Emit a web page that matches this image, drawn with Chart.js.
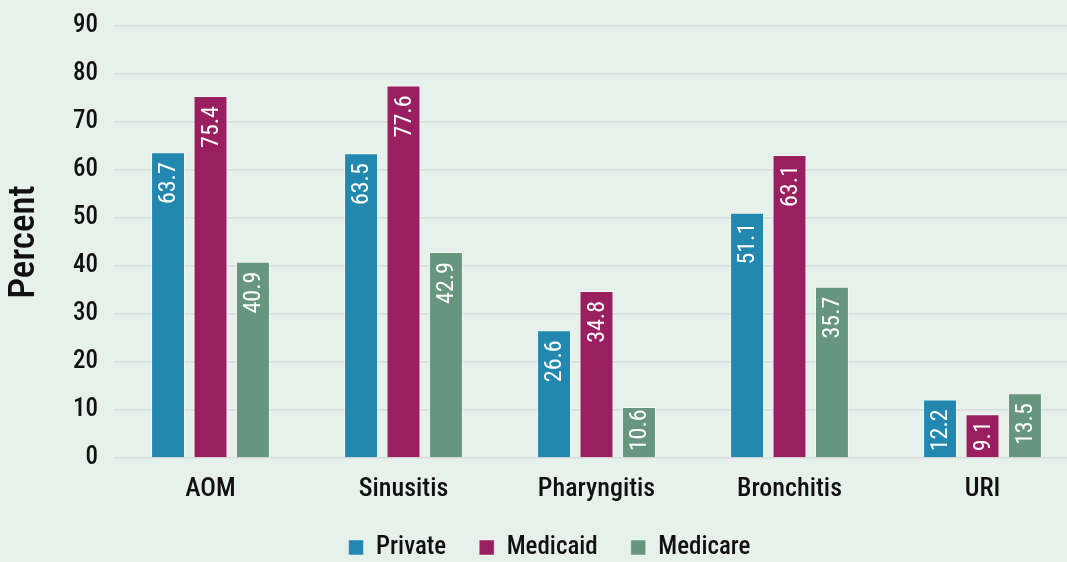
<!DOCTYPE html>
<html lang="en">
<head>
<meta charset="utf-8">
<title>Percent by payer</title>
<script src="https://cdn.jsdelivr.net/npm/chart.js@4.4.1/dist/chart.umd.min.js"></script>
<style>
    html, body {
        margin: 0;
        padding: 0;
        overflow: hidden;
        background: #E7F1EB;
    }
    #grafico {
        display: block;
    }
</style>
</head>
<body>
<canvas id="grafico" width="1079" height="570"></canvas>
<script>
// Dados do gráfico
const categorias = ['AOM', 'Sinusitis', 'Pharyngitis', 'Bronchitis', 'URI'];
const valoresPrivate = [63.7, 63.5, 26.6, 51.1, 12.2];
const valoresMedicaid = [75.4, 77.6, 34.8, 63.1, 9.1];
const valoresMedicare = [40.9, 42.9, 10.6, 35.7, 13.5];
const ticksY = [0, 10, 20, 30, 40, 50, 60, 70, 80, 90];

const fonte = "'Roboto Condensed', 'Liberation Sans', sans-serif";
Chart.defaults.font.family = fonte;
Chart.defaults.font.weight = '500';
Chart.defaults.color = '#111111';

// Escreve o valor de cada barra, girado, perto do topo
const rotulosBarras = {
    id: 'rotulosBarras',
    afterDatasetsDraw(chart) {
        const ctx = chart.ctx;
        ctx.save();
        ctx.fillStyle = '#FFFFFF';
        ctx.font = `400 24px ${fonte}`;
        ctx.textAlign = 'right';
        ctx.textBaseline = 'middle';
        chart.data.datasets.forEach((dataset, i) => {
            chart.getDatasetMeta(i).data.forEach((barra, j) => {
                const texto = dataset.data[j].toFixed(1);
                const altura = barra.base - barra.y;
                // barras baixas: encosta o texto mais no topo para caber
                const recuo = Math.min(10, altura - ctx.measureText(texto).width - 6);
                ctx.save();
                ctx.translate(barra.x + 1, barra.y + recuo);
                ctx.rotate(-Math.PI / 2);
                ctx.fillText(texto, 0, 0);
                ctx.restore();
            });
        });
        ctx.restore();
    }
};

// Legenda um pouco deslocada para a direita
const ajusteLegenda = {
    id: 'ajusteLegenda',
    afterLayout(chart) {
        chart.legend.left += 10;
        chart.legend.right += 10;
    }
};

const criarDataset = (label, data, cor) => ({
    label: label,
    data: data,
    backgroundColor: cor,
    borderColor: 'rgba(255, 255, 255, 0.45)',
    borderWidth: 1,
    categoryPercentage: 0.66,
    barPercentage: 0.8
});

const config = {
    type: 'bar',
    data: {
        labels: categorias,
        datasets: [
            criarDataset('Private', valoresPrivate, '#2388B0'),
            criarDataset('Medicaid', valoresMedicaid, '#9A1F61'),
            criarDataset('Medicare', valoresMedicare, '#67967F')
        ]
    },
    options: {
        responsive: false,
        animation: false,
        devicePixelRatio: 1,
        layout: {
            padding: { top: 25, right: 0, bottom: 0, left: 0 }
        },
        plugins: {
            tooltip: { enabled: false },
            legend: {
                position: 'bottom',
                labels: {
                    boxWidth: 15,
                    boxHeight: 15,
                    padding: 33,
                    color: '#111111',
                    font: { size: 25 }
                }
            }
        },
        scales: {
            x: {
                grid: { display: false },
                border: { display: false },
                ticks: {
                    padding: 8,
                    color: '#111111',
                    font: { size: 26 }
                },
                afterFit(scale) {
                    scale.height = 44;
                }
            },
            y: {
                min: 0,
                max: ticksY[ticksY.length - 1],
                afterBuildTicks(scale) {
                    scale.ticks = ticksY.map(v => ({ value: v }));
                },
                grid: {
                    color: '#D9DCDE',
                    lineWidth: 1.5,
                    drawTicks: false
                },
                border: { display: false },
                ticks: {
                    padding: 16,
                    color: '#111111',
                    font: { size: 25, lineHeight: 0.8 }
                },
                title: {
                    display: true,
                    text: 'Percent',
                    color: '#111111',
                    font: { size: 37 },
                    padding: { top: 3, bottom: 0 }
                },
                afterFit(scale) {
                    scale.width = 114;
                }
            }
        }
    },
    plugins: [rotulosBarras, ajusteLegenda]
};

new Chart(document.getElementById('grafico'), config);
</script>
</body>
</html>
